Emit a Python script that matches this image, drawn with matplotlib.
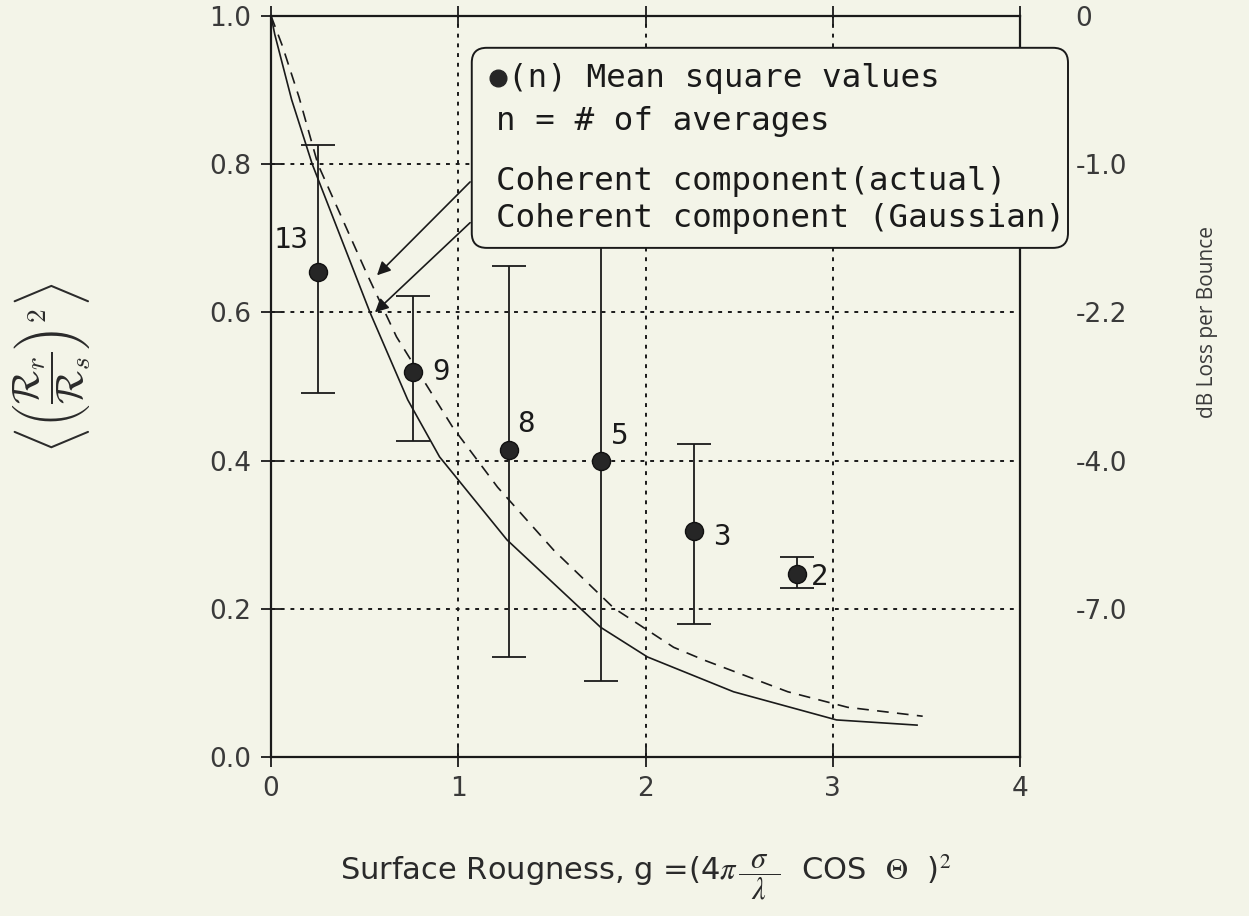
import matplotlib
matplotlib.use('Agg')
import matplotlib.pyplot as plt
from matplotlib.patches import FancyBboxPatch

plt.rcParams['font.family'] = ['DejaVu Sans']
plt.rcParams['mathtext.fontset'] = 'stix'

# measured points: roughness g, mean square value, error bar ends, number of averages
g_meas = [0.25, 0.76, 1.27, 1.76, 2.26, 2.81]
r_meas = [0.655, 0.52, 0.414, 0.40, 0.305, 0.247]
r_low = [0.491, 0.426, 0.135, 0.103, 0.179, 0.228]
r_high = [0.826, 0.622, 0.663, 0.69, 0.422, 0.27]
n_avg = ['13', '9', '8', '5', '3', '2']
# label offsets (points) for the n labels
n_offsets = [(-19, 23), (20, 0), (12, 19), (14, 18), (20, -4), (16, -2)]

# coherent component, actual (solid)
g_actual = [0.0, 0.02, 0.11, 0.22, 0.53, 0.73, 0.90, 1.26, 1.76, 2.01, 2.47, 3.02, 3.45]
r_actual = [1.0, 0.975, 0.887, 0.80, 0.599, 0.482, 0.405, 0.293, 0.175, 0.135, 0.088, 0.05, 0.043]

# coherent component, Gaussian (dashed)
g_gauss = [0.0, 0.06, 0.15, 0.25, 0.51, 0.67, 0.97, 1.21, 1.51, 1.83, 2.15, 2.31, 2.76, 3.08, 3.48]
r_gauss = [1.0, 0.96, 0.89, 0.80, 0.653, 0.567, 0.445, 0.364, 0.279, 0.201, 0.148, 0.131, 0.088, 0.067, 0.055]

x_ticks = [0, 1, 2, 3, 4]
y_ticks = [0.0, 0.2, 0.4, 0.6, 0.8, 1.0]
y_tick_labels = ['0.0', '0.2', '0.4', '0.6', '0.8', '1.0']
db_ticks = [1.0, 0.8, 0.6, 0.4, 0.2]
db_labels = ['0', '-1.0', '-2.2', '-4.0', '-7.0']

bg = '#f3f4e8'
ink = '#1a1a1a'
fig = plt.figure(figsize=(12.49, 9.16), dpi=100, facecolor=bg)
ax = fig.add_axes([0.217, 0.1736, 0.5997, 0.809])
ax.set_facecolor(bg)

ax.plot(g_actual, r_actual, color=ink, lw=1.2)
ax.plot(g_gauss, r_gauss, color=ink, lw=1.2, linestyle=(0, (7, 5)))

yerr = [[r - lo for r, lo in zip(r_meas, r_low)], [hi - r for r, hi in zip(r_meas, r_high)]]
ax.errorbar(g_meas, r_meas, yerr=yerr, fmt='o', color=ink, ms=13,
            mfc='#262626', mec='#111111', ecolor=ink, elinewidth=1.3,
            capsize=12, capthick=1.3, zorder=4)
for gx, ry, lab, off in zip(g_meas, r_meas, n_avg, n_offsets):
    ax.annotate(lab, (gx, ry), xytext=off, textcoords='offset points',
                ha='center', va='center', fontsize=21, family='DejaVu Sans Mono',
                color=ink)

ax.set_xlim(0, 4)
ax.set_ylim(0, 1)
ax.set_xticks(x_ticks)
ax.set_yticks(y_ticks)
ax.set_yticklabels(y_tick_labels)
ax.grid(True, color=ink, lw=1.4, linestyle=(0, (2, 3)))
ax.tick_params(direction='inout', length=14, width=1.3, labelsize=19,
               top=True, right=True, colors=ink, labelcolor='#3a3a3a')
ax.tick_params(axis='y', pad=7)
ax.tick_params(axis='x', pad=7)
for s in ax.spines.values():
    s.set_linewidth(1.6)
    s.set_color(ink)

ax.set_xlabel(r'Surface Rougness, g =(4$\pi\,\dfrac{\;\;\sigma\;\;}{\;\;\lambda\;\;}$  COS  $\Theta$  )$^2$',
              fontsize=22, color='#2a2a2a', labelpad=36)

# right-hand dB scale
ax2 = ax.twinx()
ax2.set_ylim(0, 1)
ax2.set_yticks(db_ticks)
ax2.set_yticklabels(db_labels)
ax2.tick_params(axis='y', length=0, pad=40, labelsize=19, labelcolor='#3a3a3a')
for s in ax2.spines.values():
    s.set_visible(False)

fig.text(0.967, 0.648, 'dB Loss per Bounce', rotation=90, ha='center', va='center',
         fontsize=15, color='#3a3a3a', family='Open Sans')
fig.text(0.042, 0.598,
         r'$\left\langle\left(\dfrac{\mathcal{R}_r}{\mathcal{R}_s}\right)^{2}\right\rangle$',
         rotation=90, ha='center', va='center', fontsize=28, color='#2a2a2a',
         math_fontfamily='cm')

# legend box with pointer arrows
box = FancyBboxPatch((0.268, 0.687), 0.796, 0.27, boxstyle='round,pad=0,rounding_size=0.02',
                     transform=ax.transAxes, facecolor=bg, edgecolor=ink, lw=1.4,
                     clip_on=False, zorder=6)
ax.add_patch(box)
ax.plot([0.303], [0.916], 'o', ms=12, color='#262626', transform=ax.transAxes,
        clip_on=False, zorder=7)
mono = dict(family='DejaVu Sans Mono', fontsize=23.4, color=ink, va='center',
            transform=ax.transAxes, zorder=7)
ax.text(0.316, 0.916, '(n) Mean square values', **mono)
ax.text(0.300, 0.858, 'n = # of averages', **mono)
ax.text(0.300, 0.777, 'Coherent component(actual)', **mono)
ax.text(0.300, 0.727, 'Coherent component (Gaussian)', **mono)

ax.annotate('', xy=(0.566, 0.650), xytext=(1.063, 0.776),
            arrowprops=dict(arrowstyle='-|>', color=ink, lw=1.2,
                            mutation_scale=20, shrinkA=0, shrinkB=0), zorder=7)
ax.annotate('', xy=(0.555, 0.600), xytext=(1.063, 0.721),
            arrowprops=dict(arrowstyle='-|>', color=ink, lw=1.2,
                            mutation_scale=20, shrinkA=0, shrinkB=0), zorder=7)

fig.savefig('out.png', dpi=100, facecolor=bg)
